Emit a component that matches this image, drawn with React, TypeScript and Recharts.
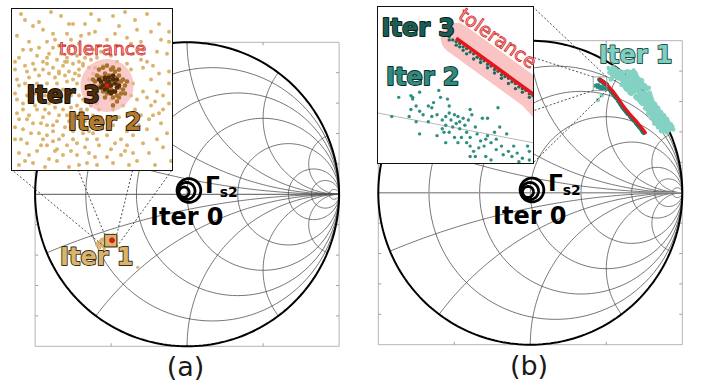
import React from "react";
import { Scatter, ScatterChart, XAxis, YAxis } from "recharts";

type Pt = [number, number];
type XY = { x: number; y: number };

// reflection coefficient values in thousandths (1000 = |Γ| of 1)
const resistanceValues = [0.2, 0.5, 1, 2, 5, 10, 30];
const reactanceValues = [0.2, 0.5, 1, 2, 5];
const frameTicksX = [-500, 0, 500];
const frameTicksY = [-800, -600, -400, -200, 200, 400, 600, 800];

// Γs2 start rings (Iter 0): centre x, centre y, radius
const ringsA = [[-20, 15, 33], [-4, 22, 56], [12, 25, 78]];
const ringsB = [[-15, 5, 36], [-2, 11, 56], [11, 18, 78]];

// ---- panel (a): points are offsets from the target ----
const targetA: Pt = [-495, -303];
const toleranceRadiusA = 13.3;
const iter1A: Pt[] = [
  [-41, 33], [-34, 32], [-28, 37], [-19, 31], [-17, 31], [-11, 31], [-4, 33], [3, 35], [9, 37], [-27, 26],
  [-32, 28], [-39, 22], [-20, 26], [-13, 25], [-9, 26], [0, 23], [-14, 21], [-24, 20], [-19, 18], [-29, 16],
  [-35, 15], [-44, 14], [-37, 11], [-32, 12], [-25, 13], [-20, 14], [-15, 15], [-10, 16], [-8, 13], [-12, 11],
  [-17, 11], [-22, 10], [-27, 9], [-32, 8], [-40, 7], [-45, 3], [-39, 4], [-34, 5], [-29, 6], [-24, 6],
  [-19, 7], [-14, 8], [-9, 9], [17, 13], [18, 9], [22, 3], [25, -3], [20, -6], [15, -7], [28, -12],
  [23, -15], [30, 16], [27, 23], [22, 27], [15, 28], [12, 21], [18, 18],
  [-44, 0], [-45, -7], [-42, -12], [-35, -12], [-29, -14], [-22, -12], [-15, -10], [-10, -12], [-20, -15], [-25, -18],
  [-30, -20], [-37, -19], [-42, -22], [-34, -24], [-27, -23], [-22, -25], [-17, -23], [-12, -20], [-7, -19], [-4, -22],
  [0, -25], [-10, -27], [-15, -29], [-20, -30], [-25, -32], [-30, -30], [-35, -33], [-40, -29], [-44, -34], [-37, -39],
  [-29, -37], [-22, -35], [-15, -35], [-9, -34], [-4, -30], [2, -32], [7, -35], [13, -34], [18, -29], [25, -27],
  [30, -24], [27, -19], [20, -22], [13, -25], [7, -27], [10, -23], [2, -7], [-4, -12], [-7, -15], [-12, -7],
  [-15, 1], [-20, 2], [-25, 1], [-30, 1], [-35, 1], [-9, 3], [-4, 5], [-17, 3], [-12, 10], [-14, 5],
  [-10, -2], [10, 11], [12, 8], [13, 1], [12, -5], [8, -10], [3, -12], [-5, -9], [-8, -5], [-2, 10],
  [5, 12], [2, 15], [-5, 14],
  [-26, 23], [-23, 16], [-30, 11], [-34, 19], [-38, 18], [-41, 10], [-46, 8], [-14, 12], [-7, 18], [-4, 20],
  [5, 20], [8, 16], [23, 10], [31, 1], [28, -5], [22, -10], [17, -15], [10, -30], [3, -39], [-5, -40],
  [-14, -40], [-19, -41], [-44, -40], [-39, -35], [-46, -27], [-44, -17], [-39, -15], [-32, -16], [-24, -15], [-19, -18],
  [-13, -16], [-27, -28], [-32, -27], [-7, -24], [3, -20], [6, -16], [0, -17], [-4, 0], [-6, 9], [-20, 12],
  [-24, 7], [-36, -4], [-31, -5], [-24, -7], [-18, -5], [-13, -12], [-15, -15], [-21, -21], [-9, -23], [-29, -9],
  [-43, 36], [-37, 30], [-23, 35], [-8, 36], [6, 30], [14, 33], [20, 36], [26, 31], [31, 27], [-45, 25],
  [-30, 22], [-18, 23], [-6, 27], [4, 26], [10, 24], [-42, 18], [-27, 19], [-16, 19], [-3, 17], [-46, 12],
  [-30, 14], [-21, 12], [-11, 14], [-36, 8], [-26, 4], [-21, 5], [-16, 6], [-7, 6], [-41, 1], [-33, -1],
  [-27, -3], [-22, -2], [-16, -2], [-46, -4], [-40, -5], [-34, -7], [-28, -6], [-20, -8], [-14, -5], [-42, -9],
  [-36, -10], [-31, -12], [-26, -11], [-18, -11], [-8, -10], [-45, -14], [-40, -17], [-33, -19], [-27, -20], [-18, -21],
  [-11, -18], [-3, -16], [-46, -21], [-38, -24], [-30, -25], [-24, -27], [-17, -27], [-12, -24], [-5, -27], [1, -21],
  [-43, -27], [-33, -30], [-26, -33], [-18, -33], [-11, -31], [-6, -36], [4, -29], [9, -33], [15, -38], [21, -34],
  [28, -31], [32, -38], [-41, -38], [-31, -41], [-25, -38], [-10, -39], [0, -36], [11, -40], [24, -40], [16, -20],
  [21, -17], [26, -14], [31, -9], [24, -8], [18, -3], [14, -12], [31, 7], [26, 6], [20, 12], [25, 17],
  [31, 22], [13, 16], [17, 22],
  [-60, -5], [-70, -15], [-80, -8], [-65, -30], [-85, -25], [-55, -45], [-75, -40], [-95, -18], [-60, 10], [-90, -35],
  [-70, 5], [-100, -30], [-50, -55], [-80, -50], [170, -177],
];
const iter2A: Pt[] = [
  [-6, 2], [-5, 5], [-4, 8], [-2, 9], [0, 10], [2, 8], [4, 7], [6, 5], [8, 3], [9, 0],
  [8, -2], [7, -4], [5, -5], [3, -6], [0, -4], [-2, -3], [-4, -1], [-6, -1], [-3, 4], [-1, 6],
  [1, 5], [3, 3], [5, 1], [6, -1], [4, -3], [2, -2], [-1, 1], [1, -1], [-3, 1], [0, 3],
  [2, 1], [4, 4], [7, 2], [-5, -3], [-7, 3], [3, 9], [6, 8], [10, 2], [9, -4], [6, -6],
  [-1, -6], [5, -8], [3, -10],
];
const iter3A: Pt[] = [
  [-3, 2], [-1, 4], [1, 4], [3, 3], [4, 1], [5, -1], [3, -3], [1, -3], [-1, -2], [-2, 0],
  [0, 1], [2, 0], [1, 2], [-3, -1], [4, -3], [6, 0], [2, -4], [0, -1], [3, 5], [-1, 3],
  [-4, 3], [5, 3],
];
const insetDomainA = { x: [-542.5, -462.5], y: [-345.5, -264.5] };

// ---- panel (b) ----
const toleranceLineB: Pt[] = [
  [459, 744], [503, 712], [540, 672], [575, 625], [612, 570], [650, 522], [691, 478], [725, 437], [757, 395],
];
const iter1B: Pt[] = [
  [515, 820], [530, 810], [545, 825], [560, 815], [575, 805], [590, 800], [520, 790], [535, 780], [550, 795], [565, 785],
  [580, 775], [595, 785], [610, 790], [540, 760], [555, 765], [570, 755], [585, 750], [600, 760], [615, 770], [530, 745],
  [625, 795], [640, 800], [660, 795], [680, 805],
  [605, 735], [620, 745], [635, 755], [650, 760], [665, 770], [680, 775], [695, 780], [600, 710], [615, 720], [630, 730],
  [645, 740], [660, 745], [675, 750], [690, 755], [705, 760], [720, 745], [735, 740], [620, 695], [635, 705], [650, 715],
  [665, 720], [680, 730], [695, 735], [710, 725], [725, 720], [740, 715], [755, 705], [645, 670], [660, 680], [675, 690],
  [690, 700], [705, 705], [720, 695], [735, 690], [750, 685], [765, 680], [780, 690], [665, 650], [680, 660], [695, 670],
  [710, 675], [725, 665], [740, 660], [755, 655], [770, 650], [785, 660], [690, 630], [705, 640], [720, 645], [735, 635],
  [750, 630], [765, 625], [780, 620], [795, 630], [715, 610], [730, 615], [745, 605], [760, 600], [775, 595], [790, 590],
  [805, 600], [735, 585], [750, 580], [765, 575], [780, 565], [795, 560], [810, 570], [825, 575],
  [755, 555], [770, 545], [785, 540], [800, 535], [815, 530], [830, 540], [845, 545], [775, 520], [790, 515], [805, 505],
  [820, 500], [835, 510], [850, 515], [865, 520], [795, 490], [810, 480], [825, 475], [840, 470], [855, 480], [870, 490],
  [885, 495], [815, 455], [830, 450], [845, 445], [860, 440], [875, 455], [890, 460], [905, 470], [840, 430], [855, 425],
  [870, 420], [885, 415], [900, 430], [915, 440], [930, 420], [880, 405], [895, 400], [910, 410], [940, 415], [925, 450],
  [860, 405], [900, 395], [445, 610], [470, 640],
  [525, 805], [540, 795], [555, 805], [570, 795], [585, 790], [600, 775], [610, 755], [625, 760], [640, 770], [655, 785],
  [670, 790], [690, 790], [610, 725], [625, 735], [640, 725], [655, 730], [670, 740], [685, 745], [700, 745], [715, 740],
  [630, 680], [650, 695], [665, 705], [685, 715], [700, 715], [715, 710], [730, 705], [745, 700], [760, 695], [655, 655],
  [670, 670], [685, 680], [700, 685], [715, 660], [730, 650], [745, 645], [760, 640], [775, 635], [790, 645], [700, 620],
  [720, 625], [740, 620], [755, 615], [770, 610], [785, 605], [800, 615], [725, 595], [745, 590], [760, 588], [775, 582],
  [790, 575], [805, 580], [820, 585], [765, 560], [780, 555], [795, 548], [810, 545], [825, 555], [840, 560], [785, 530],
  [800, 522], [815, 518], [830, 520], [845, 528], [860, 532], [805, 495], [820, 490], [835, 490], [850, 495], [865, 505],
  [880, 510], [825, 465], [840, 458], [855, 460], [870, 470], [885, 478], [900, 485], [850, 440], [865, 435], [880, 440],
  [895, 445], [910, 455], [870, 410], [890, 420], [905, 420], [920, 430], [935, 435],
];
const iter2B: Pt[] = [
  [426, 710], [433, 711], [434, 710], [438, 713], [434, 709], [436, 705], [433, 703], [432, 699], [438, 702], [440, 700],
  [443, 705], [445, 704], [446, 707], [449, 714], [450, 710], [448, 700], [445, 699], [451, 697], [453, 699], [455, 701],
  [455, 705], [454, 709], [456, 697], [458, 700], [460, 699], [461, 696], [463, 698], [464, 694], [466, 697], [467, 703],
  [468, 700], [470, 693], [465, 690], [461, 692], [459, 695], [457, 693], [453, 694], [451, 692], [455, 690], [458, 687],
  [462, 687], [467, 687], [471, 689], [473, 685], [476, 686], [477, 688], [475, 682], [472, 681], [469, 679], [467, 682],
  [465, 684], [479, 684], [481, 690], [482, 686], [484, 693], [483, 704], [477, 698], [474, 698], [467, 676], [482, 680],
  [485, 682], [489, 679], [491, 676], [494, 678], [497, 675], [500, 682], [501, 679], [492, 682], [488, 689], [476, 676],
  [422, 699], [438, 689], [453, 684], [448, 688], [443, 696], [436, 696], [452, 690], [460, 684], [470, 676], [501, 674],
  [495, 673], [486, 677], [479, 674],
];
const iter3B: Pt[] = [
  [455, 745], [455, 743], [457, 743], [459, 742], [459, 740], [461, 741], [461, 739], [463, 739], [463, 737], [465, 738],
  [465, 735], [467, 736], [469, 735], [469, 732], [471, 733], [473, 732], [473, 730], [475, 731], [477, 729], [477, 727],
  [479, 728], [481, 726], [481, 724], [483, 725], [485, 723], [485, 721], [487, 722], [489, 721], [489, 718], [491, 719],
  [493, 718], [493, 715], [495, 716], [497, 715], [497, 713], [499, 714], [501, 712], [501, 710], [503, 711], [505, 709],
  [506, 705], [507, 700], [507, 693], [520, 679], [532, 666], [544, 650], [555, 635], [567, 619], [579, 601], [592, 582],
  [604, 564], [617, 548], [629, 532], [642, 516], [656, 501], [669, 487], [683, 472], [694, 459], [706, 444], [717, 431],
  [733, 410], [746, 392], [510, 690], [524, 676], [536, 660], [560, 628], [584, 596], [598, 574], [610, 556], [623, 540],
  [636, 524], [662, 494], [676, 480], [700, 452], [712, 437], [725, 421], [740, 400],
];
const insetGridLineB: Pt[] = [[414, 701], [503, 684]];
const insetDomainB = { x: [414.1, 503.1], y: [672.3, 761.9] };

// ---- layout (pixels) ----
const panelA = { left: 0, width: 351, height: 386, cx: 187.1, cy: 194.3, R: 152 };
const panelB = { left: 351, width: 351, height: 386, cx: 179.3, cy: 192.7, R: 152 };
const insetBoxA = { left: 12, top: 9, width: 160, height: 161 };
const insetBoxB = { left: 378, top: 7, width: 155, height: 156 };

const FONT = "'DejaVu Sans', Verdana, sans-serif";

const xy = (p: Pt): XY => ({ x: p[0], y: p[1] });
const fromTarget = (t: Pt) => (p: Pt): XY => ({ x: t[0] + p[0], y: t[1] + p[1] });

function arc(cx: number, cy: number, r: number, a0: number, a1: number, n = 90): XY[] {
  const out: XY[] = [];
  for (let i = 0; i <= n; i++) {
    const a = a0 + ((a1 - a0) * i) / n;
    out.push({ x: cx + r * Math.cos(a), y: cy + r * Math.sin(a) });
  }
  return out;
}

const noDot = () => <g />;

function curve(key: string, data: XY[], stroke: string, width: number, extra: any = {}) {
  return (
    <Scatter key={key} data={data} shape={noDot} isAnimationActive={false}
      line={{ stroke, strokeWidth: width, ...extra }} />
  );
}

function dots(key: string, data: XY[], r: number, fill: string, opacity = 1) {
  return (
    <Scatter key={key} data={data} isAnimationActive={false}
      shape={(p: any) => <circle cx={p.cx} cy={p.cy} r={r} fill={fill} fillOpacity={opacity} />} />
  );
}

function segments(key: string, data: XY[], stroke: string, width: number, dash?: string) {
  const draw = (p: any) => {
    const pts = p.points || [];
    let d = "";
    for (let i = 0; i + 1 < pts.length; i += 2) d += `M${pts[i].x},${pts[i].y}L${pts[i + 1].x},${pts[i + 1].y}`;
    return <path d={d} stroke={stroke} strokeWidth={width} strokeDasharray={dash} fill="none" />;
  };
  return <Scatter key={key} data={data} shape={noDot} isAnimationActive={false} line={draw} />;
}

function filled(key: string, data: XY[], fill: string, opacity = 1) {
  const draw = (p: any) => {
    const pts = p.points || [];
    const d = pts.map((q: any, i: number) => `${i ? "L" : "M"}${q.x},${q.y}`).join("") + "Z";
    return <path d={d} fill={fill} fillOpacity={opacity} stroke="none" />;
  };
  return <Scatter key={key} data={data} shape={noDot} isAnimationActive={false} line={draw} />;
}

function smithGrid(id: string, axisColor: string, axisWidth: number) {
  const grid = "#4a4a4a";
  const items: React.ReactNode[] = [];
  resistanceValues.forEach((r) => {
    items.push(curve(`${id}-r${r}`, arc((1000 * r) / (1 + r), 0, 1000 / (1 + r), 0, 2 * Math.PI, 120), grid, 0.75));
  });
  reactanceValues.forEach((x) => {
    const R = 1000 / x;
    const px = (1000 * (x * x - 1)) / (x * x + 1);
    const py = (1000 * 2 * x) / (x * x + 1);
    let end = Math.atan2(py - R, px - 1000);
    if (end > -Math.PI / 2) end -= 2 * Math.PI;
    const upper = arc(1000, R, R, -Math.PI / 2, end, 100);
    items.push(curve(`${id}-x${x}`, upper, grid, 0.75));
    items.push(curve(`${id}-x-${x}`, upper.map((q) => ({ x: q.x, y: -q.y })), grid, 0.75));
  });
  items.push(curve(`${id}-axis`, [{ x: -1000, y: 0 }, { x: 1000, y: 0 }], axisColor, axisWidth));
  // axes frame with inward ticks
  const frame = [[-1000, -1000], [1000, -1000], [1000, 1000], [-1000, 1000], [-1000, -1000]].map((p) => xy(p as Pt));
  items.push(curve(`${id}-frame`, frame, "#b4b4b4", 1));
  const ticks: XY[] = [];
  frameTicksX.forEach((t) => {
    ticks.push({ x: t, y: -1000 }, { x: t, y: -980 }, { x: t, y: 1000 }, { x: t, y: 980 });
  });
  frameTicksY.forEach((t) => {
    ticks.push({ x: -1000, y: t }, { x: -980, y: t }, { x: 1000, y: t }, { x: 980, y: t });
  });
  items.push(segments(`${id}-ticks`, ticks, "#a0a0a0", 1));
  items.push(curve(`${id}-unit`, arc(0, 0, 1000, 0, 2 * Math.PI, 240), "#000", 2));
  return items;
}

function rings(id: string, list: number[][]) {
  return list.map((c, i) => curve(`${id}-ring${i}`, arc(c[0], c[1], c[2], 0, 2 * Math.PI, 60), "#000", 2.8));
}

type Panel = typeof panelA;
type Box = typeof insetBoxA;
type Dom = { x: number[]; y: number[] };

function pixelToGamma(panel: Panel, px: number, py: number): XY {
  return { x: ((px - panel.left - panel.cx) / panel.R) * 1000, y: ((panel.cy - py) / panel.R) * 1000 };
}

function zoomMarks(id: string, panel: Panel, box: Box, dom: Dom, boxColor: string) {
  const [x0, x1] = dom.x;
  const [y0, y1] = dom.y;
  const outline = [xy([x0, y0]), xy([x1, y0]), xy([x1, y1]), xy([x0, y1]), xy([x0, y0])];
  const tl = pixelToGamma(panel, box.left, box.top);
  const br = pixelToGamma(panel, box.left + box.width, box.top + box.height);
  const links: XY[] = [
    xy([x0, y1]), { x: tl.x, y: tl.y },
    xy([x1, y1]), { x: br.x, y: tl.y },
    xy([x0, y0]), { x: tl.x, y: br.y },
    xy([x1, y0]), { x: br.x, y: br.y },
  ];
  return [
    curve(`${id}-zoombox`, outline, boxColor, 0.9),
    segments(`${id}-links`, links, "#222", 0.8, "2 2"),
  ];
}

function PanelChart({ panel, children }: { panel: Panel; children: React.ReactNode }) {
  const xDomain = [((0 - panel.cx) / panel.R) * 1000, ((panel.width - panel.cx) / panel.R) * 1000];
  const yDomain = [((panel.cy - panel.height) / panel.R) * 1000, (panel.cy / panel.R) * 1000];
  return (
    <div style={{ position: "absolute", left: panel.left, top: 0 }}>
      <ScatterChart width={panel.width} height={panel.height} margin={{ top: 0, right: 0, bottom: 0, left: 0 }}>
        <XAxis type="number" dataKey="x" domain={xDomain} allowDataOverflow hide />
        <YAxis type="number" dataKey="y" domain={yDomain} allowDataOverflow hide />
        {children}
      </ScatterChart>
    </div>
  );
}

function InsetChart({ box, dom, children }: { box: Box; dom: Dom; children: React.ReactNode }) {
  return (
    <div
      style={{
        position: "absolute", left: box.left - 1.5, top: box.top - 1.5, width: box.width, height: box.height,
        border: "1.5px solid #111", background: "#fff",
      }}
    >
      <ScatterChart width={box.width} height={box.height} margin={{ top: 0, right: 0, bottom: 0, left: 0 }}>
        <XAxis type="number" dataKey="x" domain={dom.x} allowDataOverflow hide />
        <YAxis type="number" dataKey="y" domain={dom.y} allowDataOverflow hide />
        {children}
      </ScatterChart>
    </div>
  );
}

function Label({ x, y, text, fill, stroke, size = 24 }: any) {
  return (
    <text x={x} y={y} fontFamily={FONT} fontSize={size} fontWeight={700} fill={fill}
      stroke={stroke} strokeWidth={stroke ? 1.8 : 0} paintOrder="stroke" strokeLinejoin="round">
      {text}
    </text>
  );
}

export default function App() {
  const toA = fromTarget(targetA);
  const tan = iter1A.map(toA);
  const brown = iter2A.map(toA);
  const dark = iter3A.map(toA);
  const target = [xy(targetA)];
  const tolDiscA = arc(targetA[0], targetA[1], toleranceRadiusA, 0, 2 * Math.PI, 48);
  const tolB = toleranceLineB.map(xy);

  return (
    <div style={{ position: "absolute", left: 0, top: 0, width: 702, height: 386, background: "#fff", overflow: "hidden" }}>
      <PanelChart panel={panelA}>
        {[
          ...smithGrid("a", "#555", 1),
          ...rings("a", ringsA),
          dots("a-iter1", tan, 1.5, "#d8b46c"),
          filled("a-tol", tolDiscA, "#f7b3b3", 0.7),
          dots("a-iter2", brown, 1.4, "#a8722c"),
          dots("a-iter3", dark, 1.4, "#4a2a08"),
          dots("a-target", target, 2.6, "#e8141c"),
          ...zoomMarks("a", panelA, insetBoxA, insetDomainA, "#333"),
        ]}
      </PanelChart>
      <PanelChart panel={panelB}>
        {[
          ...smithGrid("b", "#9a9a9a", 1.6),
          ...rings("b", ringsB),
          dots("b-iter1", iter1B.map(xy), 2.2, "#84d2c3"),
          dots("b-iter2", iter2B.map(xy), 1.1, "#2e8f82"),
          dots("b-iter3", iter3B.map(xy), 2.1, "#217565"),
          curve("b-tol", tolB, "#e8141c", 3.2, { strokeLinecap: "round", strokeLinejoin: "round" }),
          ...zoomMarks("b", panelB, insetBoxB, insetDomainB, "#9a9a9a"),
        ]}
      </PanelChart>

      <InsetChart box={insetBoxA} dom={insetDomainA}>
        {[
          dots("ia-iter1", tan, 2, "#dbb56d"),
          filled("ia-tol", tolDiscA, "#f7b3b3", 0.7),
          dots("ia-iter2", brown, 2.3, "#a8722c"),
          dots("ia-iter3", dark, 2.3, "#4f2d09"),
          dots("ia-target", target, 2.2, "#e8141c"),
        ]}
      </InsetChart>
      <InsetChart box={insetBoxB} dom={insetDomainB}>
        {[
          curve("ib-grid", insetGridLineB.map(xy), "#b8b8b8", 1),
          curve("ib-band", tolB, "#fac4c4", 31, { strokeLinecap: "round", strokeLinejoin: "round" }),
          dots("ib-iter2", iter2B.map(xy), 1.7, "#2e8f82"),
          dots("ib-iter3", iter3B.map(xy), 1.7, "#1f6a5e"),
          curve("ib-tol", tolB, "#e8141c", 3.5, { strokeLinecap: "butt" }),
        ]}
      </InsetChart>

      <svg width={702} height={386} style={{ position: "absolute", left: 0, top: 0, pointerEvents: "none" }}>
        <text x={59} y={55} fontFamily={FONT} fontSize={18.5} fill="#f6b0b0" stroke="#d42a2a"
          strokeWidth={0.8}>tolerance</text>
        <Label x={26.5} y={103} text="Iter 3" fill="#4b2d0d" stroke="#0d0802" />
        <Label x={68} y={129.5} text="Iter 2" fill="#b27b2f" stroke="#1e1204" />
        <Label x={60} y={265} text="Iter 1" fill="#d8b56e" stroke="#3a2c12" />
        <Label x={150} y={225} text="Iter 0" fill="#000" />
        <text x={205} y={193} fontFamily={FONT} fontSize={23} fontWeight={700} fill="#000">
          Γ<tspan fontSize={14} dy={4}>s2</tspan>
        </text>

        <text x={498} y={38} fontFamily={FONT} fontSize={19} fill="#f6b0b0" stroke="#d42a2a" strokeWidth={0.8}
          textAnchor="middle" dominantBaseline="central" transform="rotate(35 498 38)">tolerance</text>
        <Label x={381.5} y={35.5} text="Iter 3" fill="#1d5c52" stroke="#062019" />
        <Label x={386} y={85} text="Iter 2" fill="#2e8b7e" stroke="#0b2a25" />
        <Label x={599} y={62.5} text="Iter 1" fill="#7fcfc0" stroke="#1f4f47" />
        <Label x={493} y={224} text="Iter 0" fill="#000" />
        <text x={548} y={191} fontFamily={FONT} fontSize={23} fontWeight={700} fill="#000">
          Γ<tspan fontSize={14} dy={4}>s2</tspan>
        </text>

        <text x={185.5} y={376} fontFamily={FONT} fontSize={27} fill="#1a1a1a" textAnchor="middle">(a)</text>
        <text x={529} y={375} fontFamily={FONT} fontSize={27} fill="#1a1a1a" textAnchor="middle">(b)</text>
      </svg>
    </div>
  );
}
